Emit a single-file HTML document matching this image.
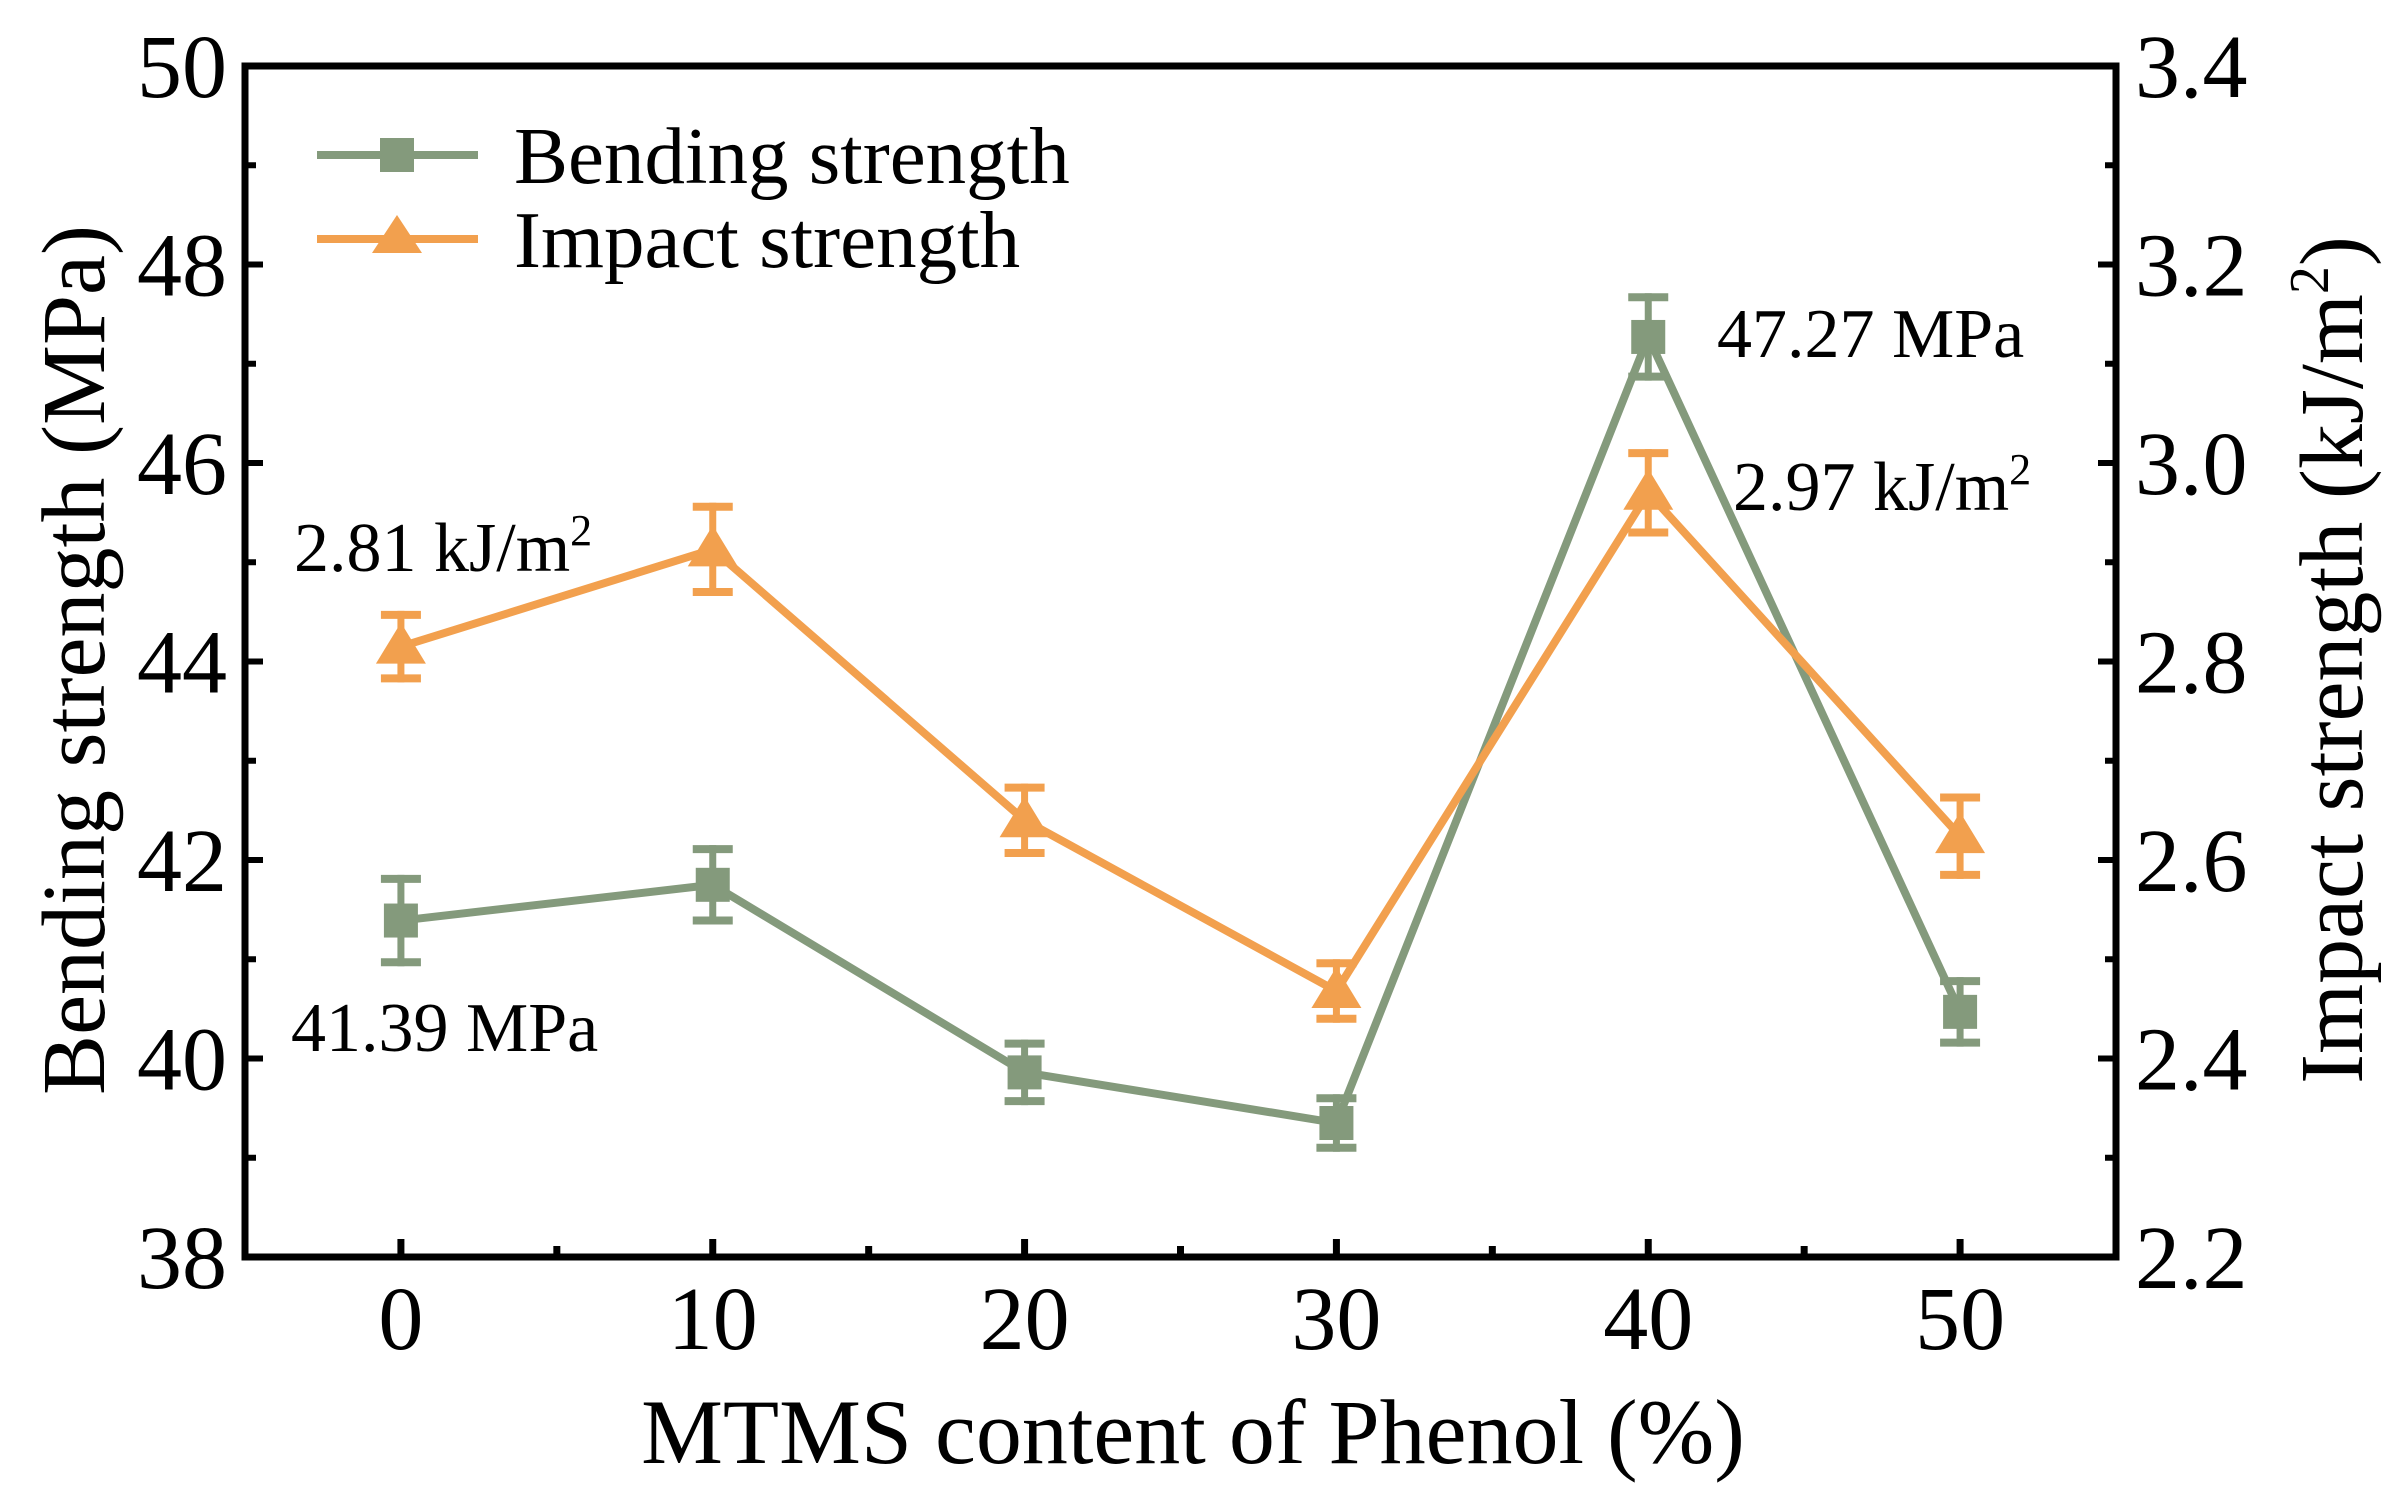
<!DOCTYPE html>
<html><head><meta charset="utf-8"><style>
html,body{margin:0;padding:0;background:#fff}
svg{display:block}
svg text{font-family:"Liberation Serif","Times New Roman",serif !important;fill:#000}
</style></head><body>
<svg id="chart" width="2404" height="1504" xmlns="http://www.w3.org/2000/svg" font-family="Liberation Serif, serif">
<g id="grid"></g>
</svg>
<script>
const categories = [0, 10, 20, 30, 40, 50];
const bendingValues = [41.39, 41.75, 39.86, 39.35, 47.27, 40.47];
const bendingErrors = [0.46, 0.40, 0.33, 0.29, 0.44, 0.35];
const impactValues = [2.815, 2.913, 2.64, 2.468, 2.97, 2.624];
const impactErrors = [0.036, 0.047, 0.037, 0.032, 0.044, 0.043];
const leftTicks = [38, 40, 42, 44, 46, 48, 50];
const rightTicks = ["2.2", "2.4", "2.6", "2.8", "3.0", "3.2", "3.4"];
const xTicks = [0, 10, 20, 30, 40, 50];

const L = 245, R = 2116, T = 66, B = 1257;
const GREEN = "#849a7c", ORANGE = "#f2a04e";
const FONT = "Liberation Serif, serif";
const NS = "http://www.w3.org/2000/svg";
const svg = document.getElementById("chart");
const xS = v => L + (v + 5) / 60 * (R - L);
const yL = v => B - (v - 38) / 12 * (B - T);
const yR = v => B - (v - 2.2) / 1.2 * (B - T);
function mk(tag, attrs, parent) {
  const e = document.createElementNS(NS, tag);
  if (tag === "text") e.setAttribute("font-family", FONT);
  for (const k in attrs) e.setAttribute(k, attrs[k]);
  (parent || svg).appendChild(e);
  return e;
}

for (let i = 0; i <= 12; i++) {
  const v = 38 + i;
  const len = i % 2 === 0 ? 18 : 11;
  const y = yL(v);
  const t1 = mk("line", {x1: L, x2: L + len, y1: y, y2: y, stroke: "#000", "stroke-width": 6});
  
  
  const t2 = mk("line", {x1: R, x2: R - len, y1: y, y2: y, stroke: "#000", "stroke-width": 6});
  
  
}
for (let v = 0; v <= 50; v += 5) {
  const len = v % 10 === 0 ? 18 : 11;
  const t = mk("line", {x1: xS(v), x2: xS(v), y1: B, y2: B - len, stroke: "#000", "stroke-width": 7});
  
  
}
const frame = mk("rect", {x: L, y: T, width: R - L, height: B - T, fill: "none", stroke: "#000", "stroke-width": 7});



leftTicks.forEach(v => {
  const t = mk("text", {x: 227, y: yL(v) + 31, "text-anchor": "end", "font-size": 90});
  t.textContent = v;
  
  
});
rightTicks.forEach(s => {
  const t = mk("text", {x: 2135, y: yR(parseFloat(s)) + 31, "font-size": 90});
  t.textContent = s;
  
  
});
xTicks.forEach(v => {
  const t = mk("text", {x: xS(v), y: 1349, "text-anchor": "middle", "font-size": 90});
  t.textContent = v;
  
  
});

function series(vals, errs, ys, color, name, marker) {
  const pts = vals.map((v, i) => [xS(categories[i]), ys(v)]);
  const pl = mk("polyline", {points: pts.map(p => p.join(",")).join(" "), fill: "none", stroke: color, "stroke-width": 8, "stroke-linejoin": "miter"});
  
  
  vals.forEach((v, i) => {
    const x = pts[i][0], y1 = ys(v + errs[i]), y2 = ys(v - errs[i]);
    const g = mk("g", {});
    
    
    mk("line", {x1: x, x2: x, y1: y1, y2: y2, stroke: color, "stroke-width": 7}, g);
    mk("line", {x1: x - 20, x2: x + 20, y1: y1 + 4, y2: y1 + 4, stroke: color, "stroke-width": 8}, g);
    mk("line", {x1: x - 20, x2: x + 20, y1: y2 - 4, y2: y2 - 4, stroke: color, "stroke-width": 8}, g);
    let m;
    if (marker === "square") m = mk("rect", {x: x - 17, y: pts[i][1] - 17, width: 34, height: 34, fill: color});
    else { const y = pts[i][1]; m = mk("polygon", {points: `${x},${y-24} ${x-25},${y+17} ${x+25},${y+17}`, fill: color}); }
    
    
  });
}
series(bendingValues, bendingErrors, yL, GREEN, "bending", "square");
series(impactValues, impactErrors, yR, ORANGE, "impact", "triangle");

function legend(y, color, marker, label, name) {
  const g = mk("g", {});
  
  
  mk("line", {x1: 317, x2: 478, y1: y, y2: y, stroke: color, "stroke-width": 8}, g);
  if (marker === "square") mk("rect", {x: 380, y: y - 17, width: 34, height: 34, fill: color}, g);
  else mk("polygon", {points: `397,${y-24} 372,${y+14} 422,${y+14}`, fill: color}, g);
  const t = mk("text", {x: 514, y: y + 28, "font-size": 81}, g);
  t.textContent = label;
}
legend(155, GREEN, "square", "Bending strength", "legend-bending");
legend(239, ORANGE, "triangle", "Impact strength", "legend-impact");

function ann(x, y, html, name) {
  const t = mk("text", {x: x, y: y, "font-size": 70});
  t.innerHTML = html;
  
  
}
ann(294, 571, '2.81 kJ/m<tspan font-size="44" dy="-26">2</tspan>', "annotation-impact-0");
ann(291, 1051, '41.39 MPa', "annotation-bending-0");
ann(1717, 357, '47.27 MPa', "annotation-bending-40");
ann(1733, 510, '2.97 kJ/m<tspan font-size="44" dy="-26">2</tspan>', "annotation-impact-40");

const xt = mk("text", {x: 1193, y: 1463, "text-anchor": "middle", "font-size": 92});
xt.textContent = "MTMS content of Phenol (%)";


const yt = mk("text", {x: 0, y: 0, "text-anchor": "middle", "font-size": 90, transform: "translate(104,660) rotate(-90)"});
yt.textContent = "Bending strength (MPa)";


const rt = mk("text", {x: 0, y: 0, "text-anchor": "middle", "font-size": 90, transform: "translate(2362,660) rotate(-90)"});
rt.innerHTML = 'Impact strength (kJ/m<tspan font-size="56" dy="-34">2</tspan><tspan dy="34">)</tspan>';


</script>
</body></html>
